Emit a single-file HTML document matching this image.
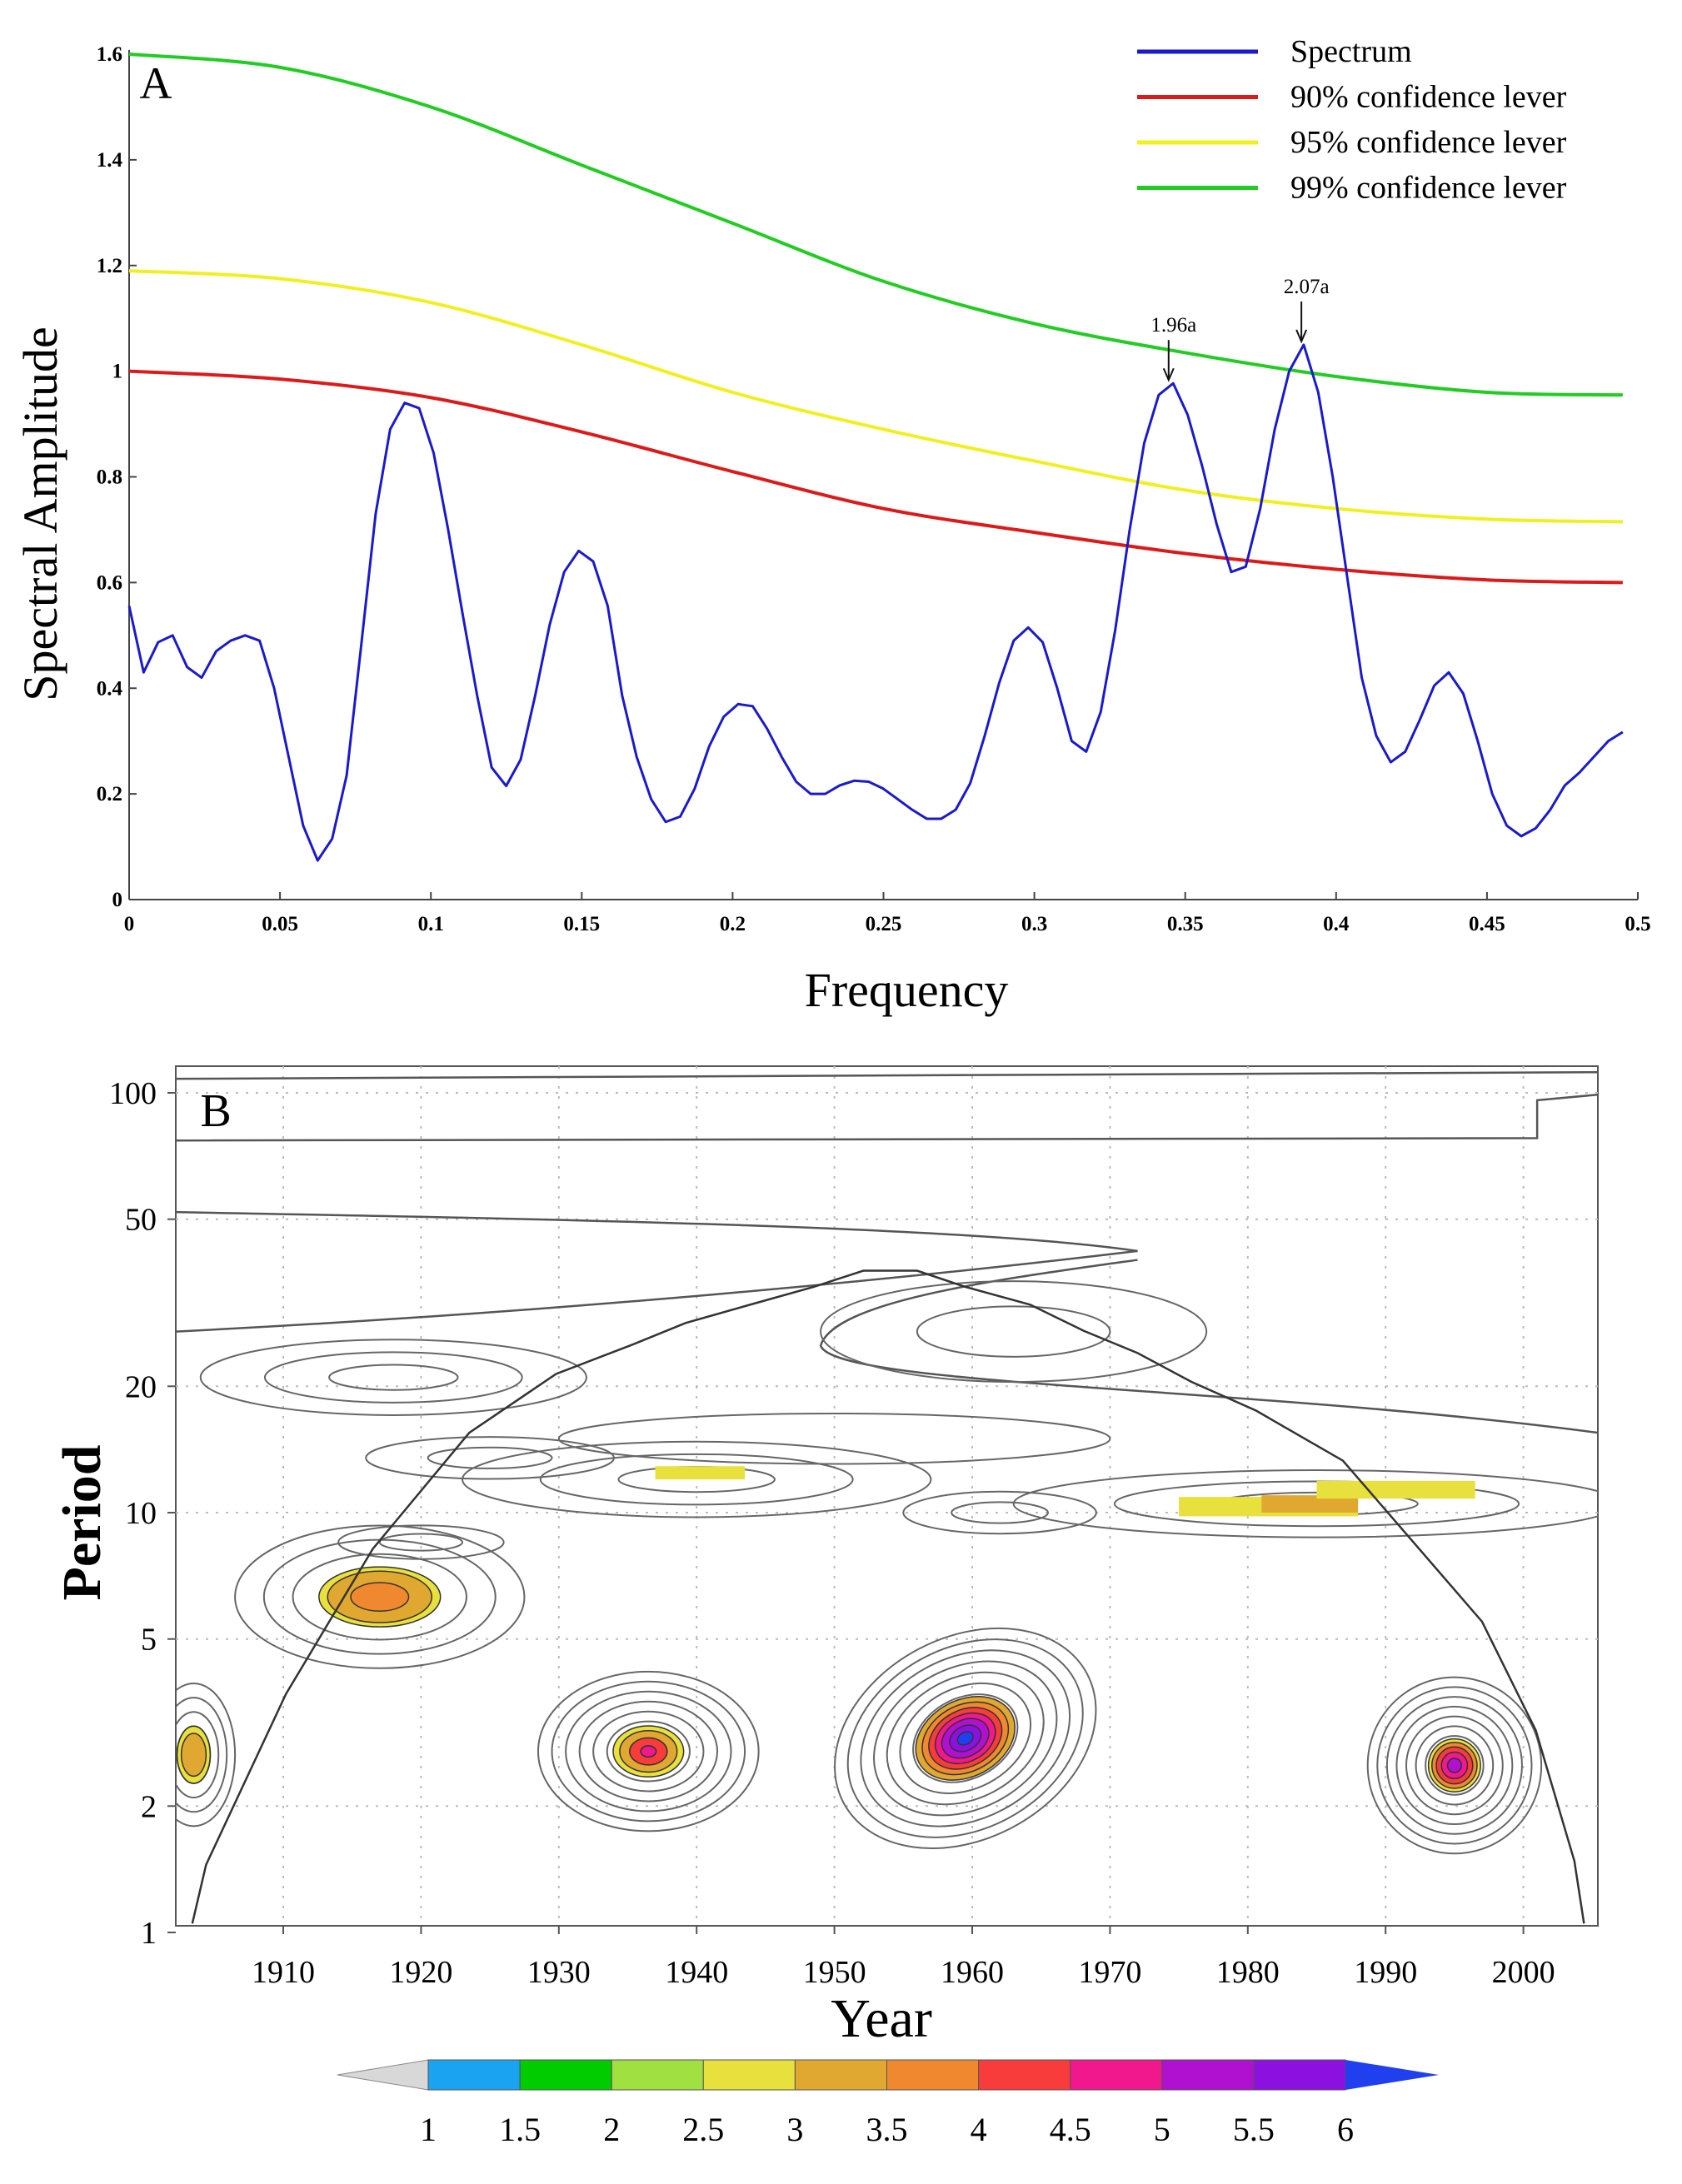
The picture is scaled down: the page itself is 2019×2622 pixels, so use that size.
<!DOCTYPE html>
<html><head><meta charset="utf-8"><style>
html,body{margin:0;padding:0;background:#fff}
svg{display:block}
text{font-family:"Liberation Serif",serif}
</style></head><body>
<svg id="fig" width="2019" height="2622" viewBox="0 0 2019 2622" xmlns="http://www.w3.org/2000/svg">
<g id="pa"></g>
<g id="pb"></g>
</svg>
<script>
// ---------- Panel A data ----------
const specValues=[0.556,0.43,0.487,0.50,0.44,0.42,0.47,0.49,0.50,0.49,0.40,0.27,0.14,0.074,0.115,0.235,0.48,0.73,0.89,0.94,0.93,0.845,0.70,0.54,0.386,0.25,0.215,0.265,0.386,0.52,0.62,0.66,0.64,0.556,0.386,0.27,0.19,0.147,0.157,0.21,0.29,0.346,0.37,0.366,0.323,0.27,0.223,0.20,0.20,0.216,0.225,0.223,0.21,0.19,0.17,0.153,0.153,0.17,0.22,0.31,0.41,0.49,0.515,0.487,0.40,0.30,0.28,0.355,0.51,0.70,0.864,0.955,0.977,0.917,0.82,0.71,0.62,0.63,0.74,0.89,1.0,1.05,0.96,0.80,0.61,0.42,0.31,0.26,0.28,0.34,0.405,0.43,0.39,0.30,0.20,0.14,0.12,0.135,0.17,0.216,0.24,0.27,0.30,0.317];
const specFreqEnd=0.495;
const confFreq=[0,0.05,0.1,0.15,0.2,0.25,0.3,0.35,0.4,0.45,0.495];
const conf90=[1.0,0.985,0.95,0.885,0.81,0.74,0.695,0.655,0.625,0.605,0.60];
const conf95=[1.19,1.175,1.13,1.05,0.96,0.89,0.83,0.775,0.74,0.72,0.715];
const conf99=[1.6,1.575,1.5,1.39,1.28,1.17,1.09,1.035,0.99,0.96,0.955];
const xTicksA=[0,0.05,0.1,0.15,0.2,0.25,0.3,0.35,0.4,0.45,0.5];
const yTicksA=[0,0.2,0.4,0.6,0.8,1,1.2,1.4,1.6];
const peakFreq=[0.3445,0.3885];
const peakVal=[0.977,1.05];
const peakLabels=["1.96a","2.07a"];
// ---------- Panel B data ----------
const xTicksB=[1910,1920,1930,1940,1950,1960,1970,1980,1990,2000];
const yTicksB=[1,2,5,10,20,50,100];
const coiYears=[1903.4,1904.4,1910.2,1916.5,1923.5,1929.8,1935.3,1939.2,1943.9,1948.5,1952.1,1956.0,1959.5,1964.2,1968.1,1972.0,1975.9,1980.6,1986.9,1991.5,1997.0,2000.9,2003.7,2004.4];
const coiPeriods=[1.05,1.45,3.7,8.2,15.5,21.4,25.1,28.3,31.3,34.5,37.7,37.7,34.5,31.3,27.1,24.0,20.5,17.5,13.3,8.9,5.5,3.03,1.48,1.05];
// blobs: center year, center period, x radius (yr), y radius (decades), ring count
const blobYear=[1903.5,1917,1936.5,1959.5,1995,1940,1918,1925,1962,1985,1963,1920,1950];
const blobPeriod=[2.65,6.3,2.7,2.9,2.5,12,21,13.5,10,10.5,27,8.5,15];
const blobRx=[3,10.5,8,10,6.3,17,14,9,7,22,14,6,20];
const blobRy=[0.17,0.17,0.19,0.24,0.21,0.09,0.09,0.05,0.05,0.08,0.12,0.04,0.06];
const blobRings=[5,5,8,10,9,3,3,2,2,3,2,2,1];
const cbLevels=[1,1.5,2,2.5,3,3.5,4,4.5,5,5.5,6];
const cbColors=["#1aa3f0","#00cc00","#a0e040","#e8e03c","#e0a830","#f08830","#f83c3c","#f0188c","#b010d0","#8c10e0"];

const NS="http://www.w3.org/2000/svg";
function mk(parent,tag,attrs,txt){const e=document.createElementNS(NS,tag);for(const k in attrs)e.setAttribute(k,attrs[k]);if(txt!==undefined)e.textContent=txt;parent.appendChild(e);return e;}

// ===== Panel A =====
const A=document.getElementById('pa');
const AL=155,AR=1966,AB=1080,AT=65;
const ax=f=>AL+f/0.5*(AR-AL);
const ay=v=>AB-v/1.6*(AB-AT);
let e;
e=mk(A,'line',{x1:AL,y1:AB,x2:AR,y2:AB,stroke:'#444','stroke-width':2});


e=mk(A,'line',{x1:AL,y1:AB,x2:AL,y2:AT-5,stroke:'#444','stroke-width':2});


xTicksA.forEach(t=>{
  mk(A,'line',{x1:ax(t),y1:AB,x2:ax(t),y2:AB-9,stroke:'#444','stroke-width':2});
  e=mk(A,'text',{x:ax(t),y:AB+37,'text-anchor':'middle','font-size':25,'font-weight':'bold'},String(t));
  
  
});
yTicksA.forEach(t=>{
  mk(A,'line',{x1:AL,y1:ay(t),x2:AL+9,y2:ay(t),stroke:'#444','stroke-width':2});
  e=mk(A,'text',{x:AL-8,y:ay(t)+8,'text-anchor':'end','font-size':25,'font-weight':'bold'},String(t));
  
  
});
function smoothPath(xs,ys){
  const p=xs.map((x,i)=>[ax(x),ay(ys[i])]);
  let d='M'+p[0][0]+','+p[0][1];
  for(let i=0;i<p.length-1;i++){
    const p0=p[Math.max(0,i-1)],p1=p[i],p2=p[i+1],p3=p[Math.min(p.length-1,i+2)];
    const c1=[p1[0]+(p2[0]-p0[0])/6,p1[1]+(p2[1]-p0[1])/6];
    const c2=[p2[0]-(p3[0]-p1[0])/6,p2[1]-(p3[1]-p1[1])/6];
    d+=' C'+c1+' '+c2+' '+p2;
  }
  return d;
}
[[conf99,'#22cc22','conf-99-line'],[conf95,'#f0f020','conf-95-line'],[conf90,'#dd1a1a','conf-90-line']].forEach(c=>{
  e=mk(A,'path',{d:smoothPath(confFreq,c[0]),fill:'none',stroke:c[1],'stroke-width':4});
  
  
});
const step=specFreqEnd/(specValues.length-1);
e=mk(A,'polyline',{points:specValues.map((v,i)=>ax(i*step)+','+ay(v)).join(' '),fill:'none',stroke:'#1a1acc','stroke-width':3,'stroke-linejoin':'round'});


peakFreq.forEach((f,i)=>{
  const x=ax(f),y=ay(peakVal[i]);
  mk(A,'line',{x1:x,y1:y-52,x2:x,y2:y-6,stroke:'#111','stroke-width':2});
  mk(A,'path',{d:`M${x-6},${y-18} L${x},${y-4} L${x+6},${y-18}`,fill:'none',stroke:'#111','stroke-width':2});
  e=mk(A,'text',{x:x+6,y:y-62,'text-anchor':'middle','font-size':25},peakLabels[i]);
  
  
});
e=mk(A,'text',{x:187,y:118,'text-anchor':'middle','font-size':54},'A');


e=mk(A,'text',{x:0,y:0,'text-anchor':'middle','font-size':58,transform:'translate(68,617) rotate(-90)'},'Spectral Amplitude');


e=mk(A,'text',{x:1088,y:1208,'text-anchor':'middle','font-size':58},'Frequency');


[['Spectrum','#1a1acc'],['90% confidence lever','#dd1a1a'],['95% confidence lever','#f0f020'],['99% confidence lever','#22cc22']].forEach((l,i)=>{
  const y=62+i*54.5;
  const g=mk(A,'g',{});
  
  
  mk(g,'line',{x1:1365,y1:y,x2:1510,y2:y,stroke:l[1],'stroke-width':5});
  mk(g,'text',{x:1549,y:y+12,'font-size':38},l[0]);
});

// ===== Panel B =====
const B=document.getElementById('pb');
const BL=211,BR=1918,BT=1280,BBm=2312;
const bx=yr=>340+(yr-1910)*16.54;
const by=p=>2320-Math.log10(p)*504;
e=mk(B,'rect',{x:BL,y:BT,width:BR-BL,height:BBm-BT,fill:'#fff',stroke:'#555','stroke-width':2});


xTicksB.forEach(t=>{
  mk(B,'line',{x1:bx(t),y1:BT,x2:bx(t),y2:BBm,stroke:'#bbb','stroke-width':2,'stroke-dasharray':'3,9'});
  mk(B,'line',{x1:bx(t),y1:BBm,x2:bx(t),y2:BBm+10,stroke:'#555','stroke-width':2});
  e=mk(B,'text',{x:bx(t),y:2380,'text-anchor':'middle','font-size':38},String(t));
  
  
});
yTicksB.forEach(t=>{
  if(t>1)mk(B,'line',{x1:BL,y1:by(t),x2:BR,y2:by(t),stroke:'#bbb','stroke-width':2,'stroke-dasharray':'3,9'});
  mk(B,'line',{x1:BL-10,y1:by(t),x2:BL,y2:by(t),stroke:'#555','stroke-width':2});
  e=mk(B,'text',{x:188,y:by(t)+13,'text-anchor':'end','font-size':38},String(t));
  
  
});
const clip=mk(B,'clipPath',{id:'cb'});mk(clip,'rect',{x:BL,y:BT,width:BR-BL,height:BBm-BT});
const C=mk(B,'g',{'clip-path':'url(#cb)'});


e=mk(C,'path',{d:`M${BL},${by(108)} L${BR},${by(112)}`,fill:'none',stroke:'#555','stroke-width':2.5});


e=mk(C,'path',{d:`M${BL},${by(77)} L${bx(2001)},${by(78)} L${bx(2001)},${by(96)} L${BR},${by(99)}`,fill:'none',stroke:'#555','stroke-width':2.5});


e=mk(C,'path',{d:`M${BL},${by(52)} C${bx(1930)},${by(50)} ${bx(1960)},${by(48)} ${bx(1972)},${by(42)} C${bx(1955)},${by(36)} ${bx(1930)},${by(30)} ${BL},${by(27)}`,fill:'none',stroke:'#555','stroke-width':2.5});


e=mk(C,'path',{d:`M${BR},${by(15.5)} C${bx(1980)},${by(20)} ${bx(1950)},${by(20)} ${bx(1949)},${by(25)} C${bx(1950)},${by(32)} ${bx(1962)},${by(36)} ${bx(1972)},${by(40)}`,fill:'none',stroke:'#555','stroke-width':2.5});


const innerFills={0:[['#e8e03c',0.4],['#e0a830',0.3]],1:[['#e8e03c',0.42],['#e0a830',0.36],['#f08830',0.2]],2:[['#e8e03c',0.32],['#e0a830',0.26],['#f83c3c',0.17],['#f0188c',0.07]],3:[['#e0a830',0.38],['#f08830',0.33],['#f83c3c',0.28],['#f0188c',0.23],['#b010d0',0.18],['#8c10e0',0.12],['#2040f0',0.06]],4:[['#e8e03c',0.3],['#f08830',0.26],['#f83c3c',0.21],['#f0188c',0.15],['#b010d0',0.08]]};
blobYear.forEach((yr,i)=>{
  const cx=bx(yr),cy=by(blobPeriod[i]);
  const rx=blobRx[i]*16.54,ry=blobRy[i]*504;
  const n=blobRings[i];
  const rot=i===3?-28:0;
  const g=mk(C,'g',{transform:`rotate(${rot},${cx},${cy})`});
  
  
  for(let k=n;k>=1;k--){
    const s=k/n;
    mk(g,'ellipse',{cx,cy,rx:rx*s,ry:ry*s,fill:'none',stroke:'#666','stroke-width':2});
  }
  (innerFills[i]||[]).forEach(f=>{
    mk(g,'ellipse',{cx,cy,rx:rx*f[1],ry:ry*f[1],fill:f[0],stroke:'#333','stroke-width':1.5});
  });
});
[[1937,1943.5,12.0,12.9,'#e8e03c'],[1975,1988,9.8,10.9,'#e8e03c'],[1981,1988,10.0,11.0,'#e0a830'],[1985,1996.5,10.8,11.9,'#e8e03c']].forEach(r=>{
  e=mk(C,'rect',{x:bx(r[0]),y:by(r[3]),width:bx(r[1])-bx(r[0]),height:by(r[2])-by(r[3]),fill:r[4]});
  
  
});
let d='';
coiYears.forEach((y,i)=>{d+=(i?' L':'M')+bx(y)+','+by(coiPeriods[i]);});
e=mk(C,'path',{d,fill:'none',stroke:'#333','stroke-width':2.5});


e=mk(B,'text',{x:259,y:1352,'text-anchor':'middle','font-size':56},'B');


e=mk(B,'text',{x:0,y:0,'text-anchor':'middle','font-size':66,'font-weight':'bold',transform:'translate(120,1828) rotate(-90)'},'Period');


e=mk(B,'text',{x:1058,y:2445,'text-anchor':'middle','font-size':66},'Year');


const cb=mk(B,'g',{});


const cbX0=514,cbW=110.1,cbY=2473,cbH=36;
mk(cb,'path',{d:`M${cbX0},${cbY} L405,${cbY+cbH/2} L${cbX0},${cbY+cbH} Z`,fill:'#d8d8d8',stroke:'#888','stroke-width':1});
cbColors.forEach((c,i)=>{
  e=mk(cb,'rect',{x:cbX0+i*cbW,y:cbY,width:cbW,height:cbH,fill:c,stroke:'#555','stroke-width':1});
  
  
});
const cbEnd=cbX0+cbColors.length*cbW;
mk(cb,'path',{d:`M${cbEnd},${cbY} L1727,${cbY+cbH/2} L${cbEnd},${cbY+cbH} Z`,fill:'#2040f0'});
cbLevels.forEach((l,i)=>{
  e=mk(cb,'text',{x:cbX0+i*cbW,y:2570,'text-anchor':'middle','font-size':40},String(l));
  
  
});
</script>
</body></html>
